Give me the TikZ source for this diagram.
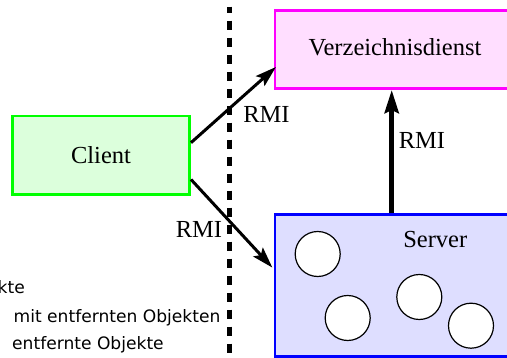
\documentclass[tikz,border=0pt]{standalone}
\usepackage{fontspec}
\setmainfont{Liberation Serif}
\newfontfamily\lsans{DejaVu Sans}
\usetikzlibrary{arrows.meta,calc}
\definecolor{vfill}{RGB}{255,222,255}
\definecolor{cfill}{RGB}{220,255,220}
\definecolor{sfill}{RGB}{222,222,255}
\definecolor{vline}{RGB}{255,0,255}
\definecolor{cline}{RGB}{0,255,0}
\definecolor{sline}{RGB}{0,0,255}
\begin{document}
\begin{tikzpicture}[x=1pt,y=-1pt,
  box/.style={draw, line width=2.6pt, inner sep=0pt, rectangle},
  lbl/.style={font=\fontsize{24.5}{28}\selectfont, inner sep=0pt},
  side/.style={font=\lsans\fontsize{17.1}{20}\selectfont, inner sep=0pt},
  obj/.style={draw=black, fill=white, line width=1.2pt, circle, inner sep=0pt, minimum size=45pt},
  link/.style={line width=3pt, -{Stealth[length=21pt,width=13pt,inset=4pt]}},
  vlink/.style={line width=4.7pt, -{Stealth[length=23pt,width=14pt,inset=3pt]}},
  divider/.style={line width=4.5pt, dash pattern=on 9pt off 8pt, dash phase=3pt}
]
\useasboundingbox (0,0) rectangle (507,358);
\clip (0,0) rectangle (507,358);
% divider
\coordinate (dtop) at (229.5,6.7);
\coordinate (dbot) at (229.5,362);
\draw[divider] (dtop) -- (dbot);
% boxes
\node[box, draw=vline, fill=vfill, minimum width=240pt, minimum height=78.2pt] (verz) at (395,49.6) {};
\node[lbl, anchor=base] (verztext) at (395,56) {Verzeichnisdienst};
\node[box, draw=cline, fill=cfill, minimum width=177.4pt, minimum height=78.7pt, lbl, inner sep=0pt] (client) at (101,155.35) {Client};
\node[box, draw=sline, fill=sfill, minimum width=265pt, minimum height=142.2pt] (server) at (407.5,285.4) {};
\node[lbl, anchor=base] (servertext) at (435.3,247.7) {Server};
% objects
\node[obj] (o1) at (317.7,254) {};
\node[obj] (o2) at (347.7,318) {};
\node[obj] (o3) at (419.3,297) {};
\node[obj] (o4) at (471,325.7) {};
% connectors
\draw[link, shorten >=-3pt] (client.8.75) -- ($(verz.south west)!0.26!(verz.north west)$);
\draw[link, shorten >=2pt] (client.-15.5) -- ($(server.north west)!0.387!(server.south west)$);
\draw[vlink] ($(server.north west)+(118,0)$) -- ($(verz.south west)+(118,0)$);
% RMI labels
\node[lbl, anchor=base] (rmi1) at (266.5,122.7) {RMI};
\node[lbl, anchor=base] (rmi2) at (422,149) {RMI};
\node[lbl, anchor=base] (rmi3) at (199,237.7) {RMI};
% side text
\node[side, anchor=base east] (t1) at (25,294) {kte};
\node[side, anchor=base west] (t2) at (13.5,322.3) {mit entfernten Objekten};
\node[side, anchor=base west] (t3) at (12,349.3) {entfernte Objekte};
\end{tikzpicture}
\end{document}
